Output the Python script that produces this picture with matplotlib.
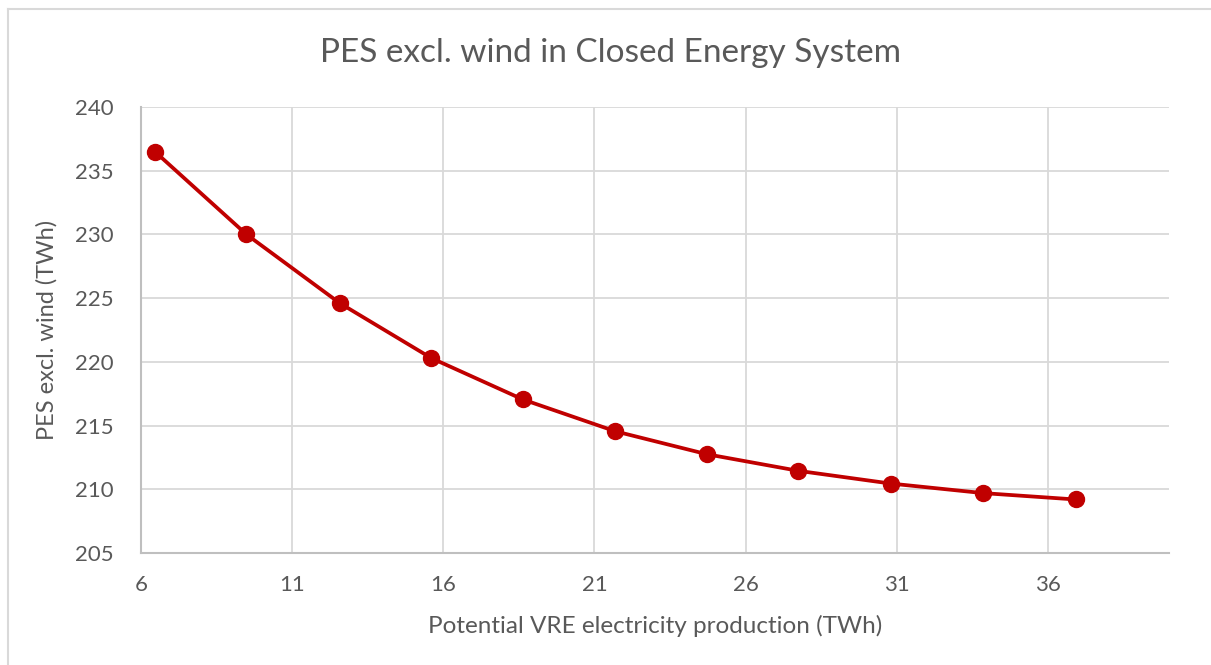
# PES excl. wind vs potential VRE production
import matplotlib.pyplot as plt
from matplotlib.lines import Line2D

plt.rcParams['font.family'] = ['Lato', 'DejaVu Sans']

# data
vre_twh = [6.46, 9.49, 12.58, 15.6, 18.63, 21.69, 24.72, 27.74, 30.80, 33.86, 36.92]
pes_twh = [236.5, 230.0, 224.6, 220.3, 217.05, 214.55, 212.75, 211.45, 210.45, 209.7, 209.2]
x_ticks = [6, 11, 16, 21, 26, 31, 36]
y_ticks = [205, 210, 215, 220, 225, 230, 235, 240]

text_col = '#595959'
red = '#C00000'

fig = plt.figure(figsize=(12.11, 6.65), dpi=100)
ax = fig.add_axes([0.1164, 0.1684, 0.8489, 0.6707])

ax.plot(vre_twh, pes_twh, color=red, linewidth=2.7, marker='o', markersize=11.5, zorder=3)

ax.set_xlim(6, 40)
ax.set_ylim(205, 240)
ax.set_xticks(x_ticks)
ax.set_yticks(y_ticks)
ax.grid(True, color='#D9D9D9', linewidth=1.3)
ax.set_axisbelow(True)

for s in ['top', 'right']:
    ax.spines[s].set_visible(False)
for s in ['left', 'bottom']:
    ax.spines[s].set_color('#BFBFBF')
    ax.spines[s].set_linewidth(1.5)

ax.tick_params(length=0, labelsize=16, colors=text_col)
ax.tick_params(axis='x', pad=16)
ax.tick_params(axis='y', pad=20)
ax.set_xlabel('Potential VRE electricity production (TWh)', fontsize=17.5, color=text_col, labelpad=14)
ax.set_ylabel('PES excl. wind (TWh)', fontsize=17, color=text_col, labelpad=12)
fig.text(0.504, 0.921, 'PES excl. wind in Closed Energy System', ha='center', va='center',
         fontsize=24, color=text_col)

# chart border (top and left edge visible)
fig.add_artist(Line2D([8 / 1211, 8 / 1211], [0, 1 - 9 / 665], transform=fig.transFigure,
                      color='#D9D9D9', linewidth=1.5))
fig.add_artist(Line2D([8 / 1211, 1], [1 - 9 / 665, 1 - 9 / 665], transform=fig.transFigure,
                      color='#D9D9D9', linewidth=1.5))

fig.savefig('out.png', dpi=100)
